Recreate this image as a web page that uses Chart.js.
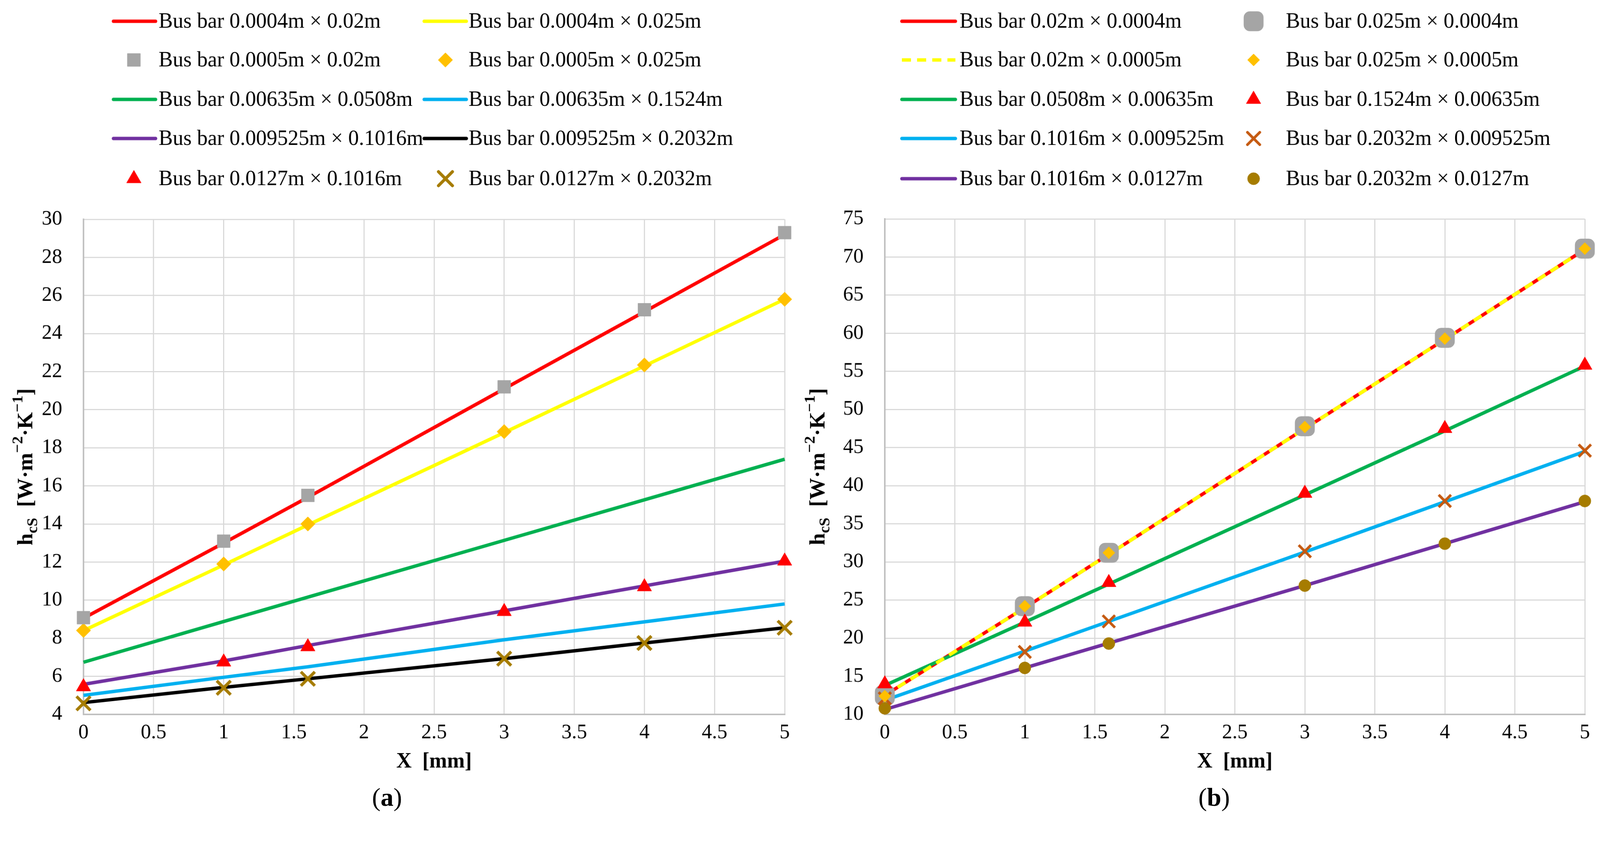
<!DOCTYPE html>
<html>
<head>
<meta charset="utf-8">
<script src="https://cdn.jsdelivr.net/npm/chart.js@4.4.0/dist/chart.umd.min.js"></script>
<style>
  html, body { margin: 0; padding: 0; background: #fff; overflow: hidden; }
  #page { position: absolute; left: 0; top: 0; width: 4217px; height: 2171px; overflow: hidden; background: #fff; transform-origin: 0 0; }
  canvas { position: absolute; top: 0; }
  #chartA { left: 0; }
  #chartB { left: 2108px; }
  .cap { position: absolute; font-family: 'Liberation Serif', serif; font-size: 68px; line-height: 1; transform: translate(-50%, -50%); top: 2101px; color: #000; }
</style>
</head>
<body>
<div id="page">
  <canvas id="chartA" width="2108" height="2171"></canvas>
  <canvas id="chartB" width="2109" height="2171"></canvas>
  <div class="cap" style="left:1020px">(<b>a</b>)</div>
  <div class="cap" style="left:3200px">(<b>b</b>)</div>
</div>
<script>
// ---------- data ----------
const xMm = [0, 1, 1.6, 3, 4, 5];
const xTicks = { min: 0, max: 5, step: 0.5 };
const yTicksA = { min: 4, max: 30, step: 2 };
const yTicksB = { min: 10, max: 75, step: 5 };

// (a)
const labelsA = [
  'Bus bar 0.0004m × 0.02m', 'Bus bar 0.0004m × 0.025m',
  'Bus bar 0.0005m × 0.02m', 'Bus bar 0.0005m × 0.025m',
  'Bus bar 0.00635m × 0.0508m', 'Bus bar 0.00635m × 0.1524m',
  'Bus bar 0.009525m × 0.1016m', 'Bus bar 0.009525m × 0.2032m',
  'Bus bar 0.0127m × 0.1016m', 'Bus bar 0.0127m × 0.2032m'
];
const a0004x020 = [9.05, 13.0, 15.4, 21.1, 25.15, 29.2];
const a0004x025 = [8.4, 11.85, 13.95, 18.8, 22.3, 25.8];
const a0005x020 = [9.08, 13.1, 15.5, 21.2, 25.25, 29.3];
const a0005x025 = [8.41, 11.9, 14.0, 18.85, 22.35, 25.8];
const a00635x0508 = [6.74, 8.88, 10.16, 13.14, 15.27, 17.4];
const a00635x1524 = [5.0, 5.95, 6.5, 7.92, 8.86, 9.8];
const a009525x1016 = [5.58, 6.81, 7.62, 9.44, 10.75, 12.05];
const a009525x2032 = [4.62, 5.42, 5.87, 6.93, 7.75, 8.55];
const a0127x1016 = [5.45, 6.75, 7.55, 9.4, 10.7, 12.05];
const a0127x2032 = [4.58, 5.4, 5.87, 6.93, 7.75, 8.55];
const seriesA = [a0004x020, a0004x025, a0005x020, a0005x025, a00635x0508,
                 a00635x1524, a009525x1016, a009525x2032, a0127x1016, a0127x2032];

// (b)
const labelsB = [
  'Bus bar 0.02m × 0.0004m', 'Bus bar 0.025m × 0.0004m',
  'Bus bar 0.02m × 0.0005m', 'Bus bar 0.025m × 0.0005m',
  'Bus bar 0.0508m × 0.00635m', 'Bus bar 0.1524m × 0.00635m',
  'Bus bar 0.1016m × 0.009525m', 'Bus bar 0.2032m × 0.009525m',
  'Bus bar 0.1016m × 0.0127m', 'Bus bar 0.2032m × 0.0127m'
];
const b020x0004 = [12.5, 24.0, 31.0, 47.5, 59.2, 71.0];
const b025x0004 = [12.5, 24.2, 31.2, 47.8, 59.4, 71.1];
const b020x0005 = [12.5, 24.0, 31.0, 47.5, 59.2, 71.0];
const b025x0005 = [12.4, 24.2, 31.2, 47.7, 59.3, 71.1];
const b0508x00635 = [13.8, 22.1, 27.1, 38.8, 47.2, 55.7];
const b1524x00635 = [14.0, 22.1, 27.3, 39.0, 47.5, 55.8];
const b1016x009525 = [11.85, 18.3, 22.2, 31.3, 37.9, 44.5];
const b2032x009525 = [12.1, 18.2, 22.2, 31.4, 38.0, 44.6];
const b1016x0127 = [10.65, 16.1, 19.35, 26.9, 32.4, 37.9];
const b2032x0127 = [10.8, 16.1, 19.3, 26.9, 32.4, 38.0];
const seriesB = [b020x0004, b025x0004, b020x0005, b025x0005, b0508x00635,
                 b1524x00635, b1016x009525, b2032x009525, b1016x0127, b2032x0127];

// ---------- styles ----------
const LW = 9;
function lineStyle(color, order, dash) {
  return { kind: 'line', color, order, dash: dash || [] };
}
function markStyle(color, shape, r, bw, order) {
  return { kind: 'mark', color, shape, r, bw: bw || 1, order };
}
const stylesA = [
  lineStyle('#FF0000', 1), lineStyle('#FFFF00', 1),
  markStyle('#A5A5A5', 'rect', 24, 1, 0), markStyle('#FFC000', 'rectRot', 19, 1, 0),
  lineStyle('#00B050', 1), lineStyle('#00B0F0', 1),
  lineStyle('#7030A0', 1), lineStyle('#000000', 1),
  markStyle('#FF0000', 'triangle', 22, 1, 0), markStyle('#A67C00', 'crossRot', 26, 8, 0)
];
const stylesB = [
  lineStyle('#FF0000', 4), markStyle('#A5A5A5', 'rectRounded', 30, 1, 1),
  lineStyle('#FFFF00', 3, [24, 16]), markStyle('#FFC000', 'rectRot', 16, 1, 0),
  lineStyle('#00B050', 3), markStyle('#FF0000', 'triangle', 22, 1, 0),
  lineStyle('#00B0F0', 3), markStyle('#C55A11', 'crossRot', 23, 7, 0),
  lineStyle('#7030A0', 3), markStyle('#A67C00', 'circle', 16, 1, 0)
];

// legend layout (canvas coordinates of each panel)
const legendA = { rowsY: [56, 158, 262, 365, 471],
  cols: [{ x1: 299, x2: 410, mx: 353, tx: 418 }, { x1: 1118, x2: 1229, mx: 1174, tx: 1235 }],
  titleX: 85 };
const legendB = { rowsY: [56, 158, 262, 365, 471],
  cols: [{ x1: 269, x2: 410, mx: 340, tx: 421 }, { x1: 1140, x2: 1250, mx: 1196, tx: 1281 }],
  titleX: 65 };

// fit the 4217x2171 design into whatever viewport we get
const pageEl = document.getElementById('page');
const fit = Math.min(window.innerWidth / 4217, window.innerHeight / 2171);
pageEl.style.transform = 'scale(' + fit + ')';

Chart.defaults.font.family = "'Liberation Serif', serif";
Chart.defaults.color = '#000';

function buildDatasets(labels, series, styles) {
  return series.map((vals, i) => {
    const s = styles[i];
    const base = {
      label: labels[i],
      data: xMm.map((x, k) => ({ x: x, y: vals[k] })),
      order: s.order,
      clip: false
    };
    if (s.kind === 'line') {
      return Object.assign(base, {
        showLine: true, borderColor: s.color, backgroundColor: s.color,
        borderWidth: LW, borderDash: s.dash, pointRadius: 0, pointHoverRadius: 0
      });
    }
    return Object.assign(base, {
      showLine: false, pointStyle: s.shape, pointRadius: s.r, pointHoverRadius: s.r,
      pointBackgroundColor: s.color, pointBorderColor: s.color, pointBorderWidth: s.bw,
      borderColor: s.color, backgroundColor: s.color
    });
  });
}

// draws the two-column legend and the y title with sub/superscripts
const panelDecor = {
  id: 'panelDecor',
  afterDraw(chart, args, opts) {
    const ctx = chart.ctx;
    ctx.save();
    chart.data.datasets.forEach((ds, i) => {
      const col = opts.cols[i % 2];
      const y = opts.rowsY[Math.floor(i / 2)];
      if (ds.showLine) {
        ctx.strokeStyle = ds.borderColor;
        ctx.lineWidth = LW;
        ctx.lineCap = ds.borderDash.length ? 'butt' : 'round';
        ctx.setLineDash(ds.borderDash);
        ctx.beginPath();
        ctx.moveTo(col.x1, y);
        ctx.lineTo(col.x2, y);
        ctx.stroke();
        ctx.setLineDash([]);
      } else {
        ctx.fillStyle = ds.pointBackgroundColor;
        ctx.strokeStyle = ds.pointBorderColor;
        ctx.lineWidth = ds.pointBorderWidth;
        Chart.helpers.drawPoint(ctx, { pointStyle: ds.pointStyle, radius: ds.pointRadius,
          borderWidth: ds.pointBorderWidth, rotation: 0 }, col.mx, y);
      }
      ctx.fillStyle = '#000';
      ctx.font = "56px 'Liberation Serif'";
      ctx.textAlign = 'left';
      ctx.textBaseline = 'middle';
      ctx.fillText(ds.label, col.tx, y + 2);
    });

    // y axis title: h_cS [W·m^-2·K^-1]
    const F = 57;
    const parts = [
      { t: 'h', s: 1, dy: 0 }, { t: 'cS', s: 0.72, dy: 0.22 },
      { t: '  [W·m', s: 1, dy: 0 }, { t: '−2', s: 0.72, dy: -0.45 },
      { t: '·K', s: 1, dy: 0 }, { t: '−1', s: 0.72, dy: -0.45 }, { t: ']', s: 1, dy: 0 }
    ];
    let total = 0;
    parts.forEach(p => { ctx.font = 'bold ' + (F * p.s) + "px 'Liberation Serif'"; p.w = ctx.measureText(p.t).width; total += p.w; });
    const ca = chart.chartArea;
    ctx.translate(opts.titleX, (ca.top + ca.bottom) / 2);
    ctx.rotate(-Math.PI / 2);
    ctx.textAlign = 'left';
    ctx.textBaseline = 'alphabetic';
    ctx.fillStyle = '#000';
    let x = -total / 2;
    parts.forEach(p => {
      ctx.font = 'bold ' + (F * p.s) + "px 'Liberation Serif'";
      ctx.fillText(p.t, x, p.dy * F);
      x += p.w;
    });
    ctx.restore();
  }
};

function makeChart(canvasId, labels, series, styles, yT, legend, pad) {
  return new Chart(document.getElementById(canvasId), {
    type: 'line',
    data: { datasets: buildDatasets(labels, series, styles) },
    plugins: [panelDecor],
    options: {
      responsive: false,
      animation: false,
      devicePixelRatio: 1,
      layout: { padding: pad },
      plugins: {
        legend: { display: false },
        tooltip: { enabled: false },
        panelDecor: legend
      },
      scales: {
        x: {
          type: 'linear', min: xTicks.min, max: xTicks.max,
          afterFit: s => { s.height = 159; },
          ticks: { stepSize: xTicks.step, padding: 16, font: { size: 54 }, color: '#000',
                   callback: v => String(Math.round(v * 100) / 100) },
          grid: { color: '#d9d9d9', lineWidth: 3, drawTicks: false },
          border: { color: '#bfbfbf', width: 4 },
          title: { display: true, text: 'X  [mm]', font: { size: 56, weight: 'bold' }, padding: 0, color: '#000' }
        },
        y: {
          type: 'linear', min: yT.min, max: yT.max,
          afterFit: s => { s.width = 150; },
          ticks: { stepSize: yT.step, padding: 56, font: { size: 54 }, color: '#000',
                   callback: v => String(v) },
          grid: { color: '#d9d9d9', lineWidth: 3, drawTicks: false },
          border: { color: '#bfbfbf', width: 4 }
        }
      }
    }
  });
}

makeChart('chartA', labelsA, seriesA, stylesA, yTicksA, legendA, { left: 70, right: 40, top: 578, bottom: 129 });
makeChart('chartB', labelsB, seriesB, stylesB, yTicksB, legendB, { left: 74, right: 40, top: 577, bottom: 129 });
</script>
</body>
</html>
